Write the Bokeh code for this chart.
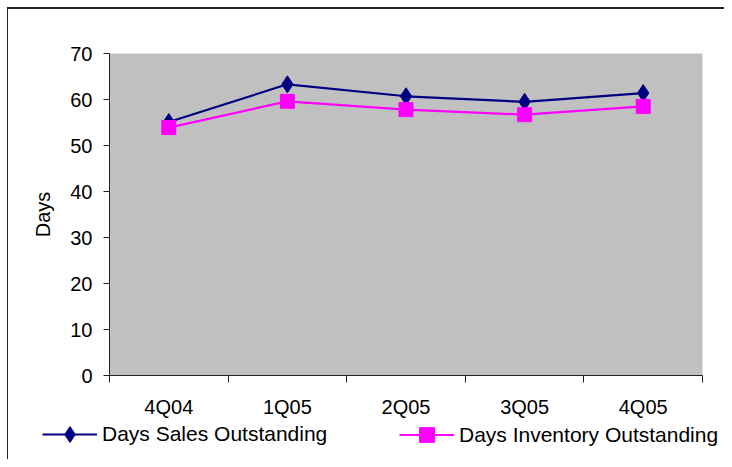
from bokeh.plotting import figure
from bokeh.models import (Range1d, FixedTicker, CustomJSTickFormatter, Legend, LegendItem)
from bokeh.embed import file_html
from bokeh.resources import INLINE

categories = ["4Q04", "1Q05", "2Q05", "3Q05", "4Q05"]
days_sales_outstanding = [55.1, 63.3, 60.7, 59.5, 61.4]
days_inventory_outstanding = [53.9, 59.6, 57.8, 56.7, 58.5]
y_ticks = [0, 10, 20, 30, 40, 50, 60, 70]
series_names = ["Days Sales Outstanding", "Days Inventory Outstanding"]

FONT = "Liberation Sans"
FS = "20px"
LEG_FS = "21px"
NAVY = "#000080"
MAGENTA = "#FF00FF"

x_pos = [i + 0.5 for i in range(len(categories))]

p = figure(width=724, height=420, output_backend="svg", toolbar_location=None,
           x_range=Range1d(0, len(categories)), y_range=Range1d(0, 70),
           min_border_left=109, min_border_top=53, min_border_right=22, min_border_bottom=44)
p.styles = {
    "background": "linear-gradient(#222,#222) 7px 7px / 100% 2px no-repeat, "
                  "linear-gradient(#222,#222) 7px 7px / 1px 100% no-repeat, white",
}
p.background_fill_color = "#C0C0C0"
p.border_fill_color = None
p.outline_line_color = None
p.xgrid.visible = False
p.ygrid.visible = False

# x axis
xa = p.xaxis[0]
xa.ticker = FixedTicker(ticks=x_pos, minor_ticks=list(range(len(categories) + 1)))
xa.formatter = CustomJSTickFormatter(args=dict(labels=categories),
                                     code="return labels[Math.floor(tick)]")
xa.major_tick_out = 0
xa.major_tick_in = 0
xa.minor_tick_out = 7
xa.minor_tick_in = 0
xa.minor_tick_line_color = "#222"
xa.axis_line_color = "#222"
xa.major_label_standoff = 13
xa.major_label_text_font = FONT
xa.major_label_text_font_size = FS
xa.major_label_text_color = "black"

# y axis
ya = p.yaxis[0]
ya.ticker = FixedTicker(ticks=y_ticks)
ya.major_tick_out = 6
ya.major_tick_in = 0
ya.minor_tick_out = 0
ya.minor_tick_in = 0
ya.axis_line_color = "#222"
ya.major_tick_line_color = "#222"
ya.major_label_standoff = 11
ya.major_label_text_font = FONT
ya.major_label_text_font_size = FS
ya.major_label_text_color = "black"
ya.axis_label = "Days"
ya.axis_label_text_font = FONT
ya.axis_label_text_font_size = FS
ya.axis_label_text_font_style = "normal"
ya.axis_label_text_color = "black"
ya.axis_label_standoff = 13

p.line(x_pos, days_sales_outstanding, line_color=NAVY, line_width=2.2)
p.scatter(x_pos, days_sales_outstanding, marker="diamond", size=17,
          fill_color=NAVY, line_color=NAVY)
p.line(x_pos, days_inventory_outstanding, line_color=MAGENTA, line_width=2.2)
p.scatter(x_pos, days_inventory_outstanding, marker="square", size=14,
          fill_color=MAGENTA, line_color=MAGENTA)

# legend strip (separate root so its frame spans the full width)
q = figure(width=724, height=39, output_backend="svg", toolbar_location=None,
           x_range=Range1d(0, 1), y_range=Range1d(0, 1),
           min_border_left=0, min_border_top=0, min_border_right=0, min_border_bottom=0)
q.styles = {
    "background": "linear-gradient(#222,#222) 7px 0px / 1px 100% no-repeat, white",
}
q.axis.visible = False
q.grid.visible = False
q.outline_line_color = None
q.background_fill_color = None
q.border_fill_color = None

# series drawn off-view here; they only feed the legend glyphs
ql1 = q.line(x_pos, days_sales_outstanding, line_color=NAVY, line_width=2.2)
qm1 = q.scatter(x_pos, days_sales_outstanding, marker="diamond", fill_color=NAVY, line_color=NAVY)
ql2 = q.line(x_pos, days_inventory_outstanding, line_color=MAGENTA, line_width=2.2)
qm2 = q.scatter(x_pos, days_inventory_outstanding, marker="square", fill_color=MAGENTA, line_color=MAGENTA)

def make_legend(label, rends, loc, gh):
    lg = Legend(items=[LegendItem(label=label, renderers=rends)], location=loc,
                orientation="horizontal", border_line_color=None,
                background_fill_alpha=0, padding=0, margin=0,
                glyph_width=55, glyph_height=gh, label_standoff=5,
                label_text_font=FONT, label_text_font_size=LEG_FS, label_text_color="black")
    q.add_layout(lg, "center")

make_legend(series_names[0], [ql1, qm1], (42, 5), 40)
make_legend(series_names[1], [ql2, qm2], (399, 6), 37)

open("out.html", "w").write(file_html([p, q], INLINE))
